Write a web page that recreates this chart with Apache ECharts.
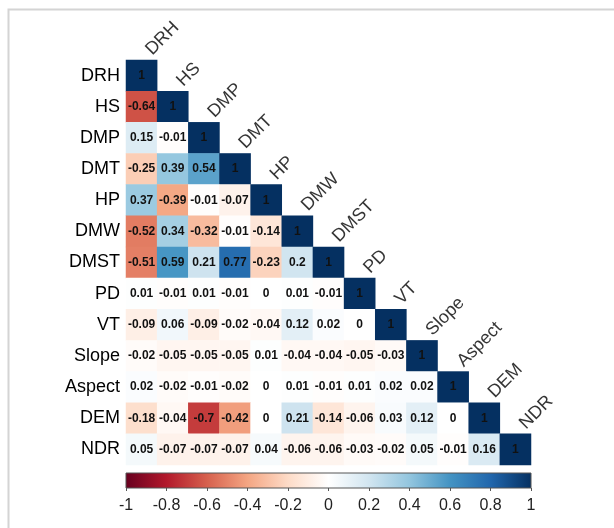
<!DOCTYPE html>
<html>
<head>
<meta charset="utf-8">
<script src="https://cdn.jsdelivr.net/npm/echarts@6/dist/echarts.min.js"></script>
<style>
  html, body { margin: 0; padding: 0; background: #ffffff; }
  #chart { width: 614px; height: 528px; }
</style>
</head>
<body>
<div id="chart"></div>
<script>
// Variable names (rows top to bottom, columns left to right)
const variables = ['DRH', 'HS', 'DMP', 'DMT', 'HP', 'DMW', 'DMST', 'PD', 'VT', 'Slope', 'Aspect', 'DEM', 'NDR'];

// Lower-triangle correlation coefficients, one array per row
const rowDRH    = [1];
const rowHS     = [-0.64, 1];
const rowDMP    = [0.15, -0.01, 1];
const rowDMT    = [-0.25, 0.39, 0.54, 1];
const rowHP     = [0.37, -0.39, -0.01, -0.07, 1];
const rowDMW    = [-0.52, 0.34, -0.32, -0.01, -0.14, 1];
const rowDMST   = [-0.51, 0.59, 0.21, 0.77, -0.23, 0.2, 1];
const rowPD     = [0.01, -0.01, 0.01, -0.01, 0, 0.01, -0.01, 1];
const rowVT     = [-0.09, 0.06, -0.09, -0.02, -0.04, 0.12, 0.02, 0, 1];
const rowSlope  = [-0.02, -0.05, -0.05, -0.05, 0.01, -0.04, -0.04, -0.05, -0.03, 1];
const rowAspect = [0.02, -0.02, -0.01, -0.02, 0, 0.01, -0.01, 0.01, 0.02, 0.02, 1];
const rowDEM    = [-0.18, -0.04, -0.7, -0.42, 0, 0.21, -0.14, -0.06, 0.03, 0.12, 0, 1];
const rowNDR    = [0.05, -0.07, -0.07, -0.07, 0.04, -0.06, -0.06, -0.03, -0.02, 0.05, -0.01, 0.16, 1];

// Colour bar ticks
const scaleMin = -1;
const scaleMax = 1;
const scaleStep = 0.2;

// Diverging red-white-blue palette
const rdBu = ['#67001F', '#B2182B', '#D6604D', '#F4A582', '#FDDBC7', '#FFFFFF',
              '#D1E5F0', '#92C5DE', '#4393C3', '#2166AC', '#053061'];

const rows = [rowDRH, rowHS, rowDMP, rowDMT, rowHP, rowDMW, rowDMST,
              rowPD, rowVT, rowSlope, rowAspect, rowDEM, rowNDR];

const cells = [];
rows.forEach(function (vals, r) {
  vals.forEach(function (v, c) {
    cells.push([c, r, v]);
  });
});

const diagonal = variables.map(function (name, i) {
  return { name: name, value: [i, i] };
});

const fontFamily = '"Liberation Sans", Arial, sans-serif';

const chart = echarts.init(document.getElementById('chart'), null, { renderer: 'canvas' });

chart.setOption({
  animation: false,
  backgroundColor: '#ffffff',
  textStyle: { fontFamily: fontFamily },
  graphic: [{
    type: 'rect',
    shape: { x: 8.5, y: 9.5, width: 700, height: 600 },
    style: { fill: 'none', stroke: '#d4d4d4', lineWidth: 2 },
    silent: true
  }],
  grid: [
    { left: 126, top: 60, width: 405, height: 405 },
    { left: 126, top: 473, width: 405, height: 15 }
  ],
  xAxis: [
    {
      gridIndex: 0, type: 'category', data: variables,
      axisLine: { show: false }, axisTick: { show: false },
      axisLabel: { show: false }, splitLine: { show: false }
    },
    {
      gridIndex: 1, type: 'value', min: scaleMin, max: scaleMax, interval: scaleStep,
      position: 'bottom',
      axisLine: { show: false },
      axisTick: { show: true, length: 3, lineStyle: { color: '#555', width: 1 } },
      splitLine: { show: false },
      axisLabel: {
        fontSize: 16, color: '#222', margin: 10, fontFamily: fontFamily,
        formatter: function (v) { return String(+v.toFixed(1)); }
      }
    }
  ],
  yAxis: [
    {
      gridIndex: 0, type: 'category', data: variables, inverse: true,
      axisLine: { show: false }, axisTick: { show: false }, splitLine: { show: false },
      axisLabel: { fontSize: 18, color: '#000', margin: 6, fontFamily: fontFamily }
    },
    {
      gridIndex: 1, type: 'value', min: 0, max: 1, show: false
    }
  ],
  visualMap: {
    show: false, type: 'continuous', min: scaleMin, max: scaleMax,
    seriesIndex: 0, dimension: 2,
    inRange: { color: rdBu }
  },
  series: [
    {
      type: 'heatmap', xAxisIndex: 0, yAxisIndex: 0,
      data: cells,
      label: {
        show: true, fontSize: 12, fontWeight: 'bold', color: '#111', fontFamily: fontFamily,
        formatter: function (p) { return String(p.value[2]); }
      },
      itemStyle: { borderWidth: 0 },
      emphasis: { disabled: true }
    },
    {
      type: 'scatter', xAxisIndex: 0, yAxisIndex: 0,
      data: diagonal, symbolSize: 0, silent: true,
      label: {
        show: true, position: 'top', distance: 19, offset: [8, 11],
        formatter: '{b}', rotate: 45, align: 'left', verticalAlign: 'bottom',
        fontSize: 18, color: '#000', fontFamily: fontFamily
      }
    },
    {
      type: 'custom', xAxisIndex: 1, yAxisIndex: 1,
      data: [[scaleMin, scaleMax]], silent: true,
      renderItem: function (params, api) {
        const p0 = api.coord([api.value(0), 1]);
        const p1 = api.coord([api.value(1), 0]);
        const stops = rdBu.map(function (c, i) {
          return { offset: i / (rdBu.length - 1), color: c };
        });
        return {
          type: 'rect',
          shape: { x: p0[0], y: p0[1], width: p1[0] - p0[0], height: p1[1] - p0[1] },
          style: {
            fill: new echarts.graphic.LinearGradient(0, 0, 1, 0, stops),
            stroke: '#555', lineWidth: 1
          }
        };
      }
    }
  ]
});
</script>
</body>
</html>
